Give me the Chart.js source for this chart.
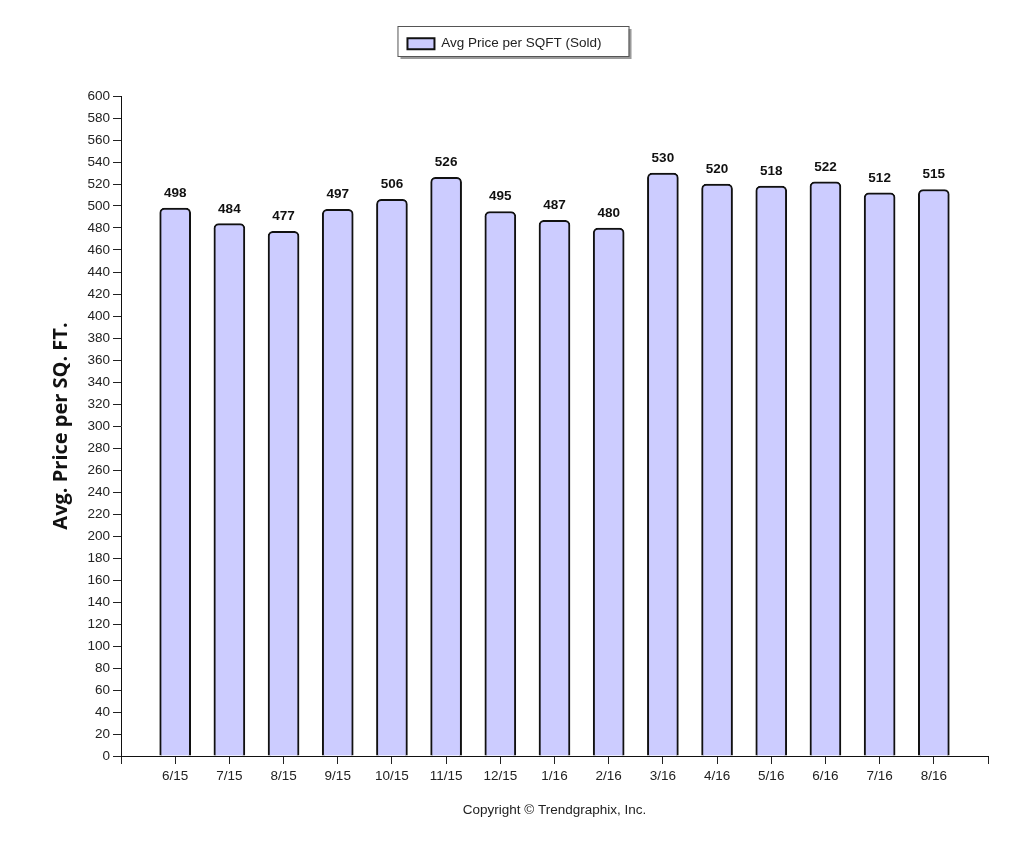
<!DOCTYPE html>
<html lang="en">
<head>
    <meta charset="UTF-8">
    <title>Avg Price per SQFT (Sold)</title>
    <script src="https://cdn.jsdelivr.net/npm/chart.js"></script>
    <style>
        html, body { margin: 0; padding: 0; background: #fff; }
        #wrap { width: 1024px; height: 853px; }
    </style>
</head>
<body>
    <div id="wrap"><canvas id="priceChart"></canvas></div>
    <script>
        // empty first/last slots so the axis runs half a bar past each end
        const months = ['', '6/15', '7/15', '8/15', '9/15', '10/15', '11/15', '12/15', '1/16', '2/16', '3/16', '4/16', '5/16', '6/16', '7/16', '8/16', ''];
        const avgPrice = [null, 498, 484, 477, 497, 506, 526, 495, 487, 480, 530, 520, 518, 522, 512, 515, null];
        const seriesName = 'Avg Price per SQFT (Sold)';
        const yTitle = 'Avg. Price per SQ. FT.';
        const footer = 'Copyright \u00A9 Trendgraphix, Inc.';

        Chart.defaults.font.family = '"Liberation Sans", Arial, sans-serif';
        Chart.defaults.font.size = 13.5;
        Chart.defaults.color = '#222';

        // box with drop shadow behind the legend
        const legendFrame = {
            id: 'legendFrame',
            beforeDraw(chart) {
                const hb = chart.legend && chart.legend.legendHitBoxes && chart.legend.legendHitBoxes[0];
                if (!hb) return;
                const ctx = chart.ctx;
                const x = hb.left - 10, y = hb.top - 11;
                const w = hb.width + 37, h = 30;
                ctx.save();
                ctx.fillStyle = '#9a9a9a';
                ctx.fillRect(x + 3, y + 3, w, h);
                ctx.fillStyle = '#fff';
                ctx.fillRect(x, y, w, h);
                ctx.strokeStyle = '#555';
                ctx.lineWidth = 1;
                ctx.strokeRect(x + 0.5, y + 0.5, w, h);
                ctx.restore();
            }
        };

        // numbers above the bars
        const barValues = {
            id: 'barValues',
            afterDatasetsDraw(chart) {
                const ctx = chart.ctx;
                const meta = chart.getDatasetMeta(0);
                ctx.save();
                ctx.font = 'bold 13.5px "Liberation Sans", Arial, sans-serif';
                ctx.fillStyle = '#111';
                ctx.textAlign = 'center';
                ctx.textBaseline = 'bottom';
                meta.data.forEach((bar, i) => {
                    const v = avgPrice[i];
                    if (v == null) return;
                    ctx.fillText(String(v), bar.x, bar.y - 8);
                });
                ctx.restore();
            }
        };

        new Chart(document.getElementById('priceChart'), {
            type: 'bar',
            data: {
                labels: months,
                datasets: [{
                    label: seriesName,
                    data: avgPrice,
                    backgroundColor: '#ccccff',
                    borderColor: '#111',
                    borderWidth: 2,
                    borderRadius: { topLeft: 5, topRight: 5, bottomLeft: 0, bottomRight: 0 },
                    borderSkipped: 'bottom',
                    barThickness: 31
                }]
            },
            options: {
                responsive: true,
                maintainAspectRatio: false,
                animation: false,
                layout: { padding: { top: 27, left: 21, right: 36, bottom: 0 } },
                plugins: {
                    legend: {
                        display: true,
                        position: 'top',
                        labels: {
                            boxWidth: 27,
                            boxHeight: 11,
                            padding: 10,
                            color: '#222',
                            font: { size: 13.5 }
                        }
                    },
                    // empty title used as a gap between legend and plot
                    title: {
                        display: true,
                        text: '',
                        weight: 500,
                        font: { size: 10, lineHeight: 1 },
                        padding: { top: 0, bottom: 25.5 }
                    },
                    tooltip: { enabled: false }
                },
                scales: {
                    x: {
                        offset: false,
                        afterFit(s) { s.height = 97; },
                        grid: { display: true, offset: false, drawOnChartArea: false, drawTicks: true, tickLength: 8, color: '#222' },
                        border: { display: true, color: '#111', width: 1 },
                        ticks: { autoSkip: false, maxRotation: 0, padding: 4, color: '#222' },
                        title: { display: true, text: footer, color: '#222', padding: { top: 0, bottom: 35 } }
                    },
                    y: {
                        min: 0,
                        max: 600,
                        afterFit(s) { s.width = 100; },
                        grid: { display: true, drawOnChartArea: false, drawTicks: true, tickLength: 8, color: '#222' },
                        border: { display: true, color: '#111', width: 1 },
                        ticks: { stepSize: 20, autoSkip: false, padding: 3, color: '#222' },
                        title: { display: true, text: yTitle, color: '#111', font: { family: '"Open Sans", sans-serif', size: 20, weight: 'bold' }, padding: { top: 28, bottom: 0 } }
                    }
                }
            },
            plugins: [legendFrame, barValues]
        });
    </script>
</body>
</html>
